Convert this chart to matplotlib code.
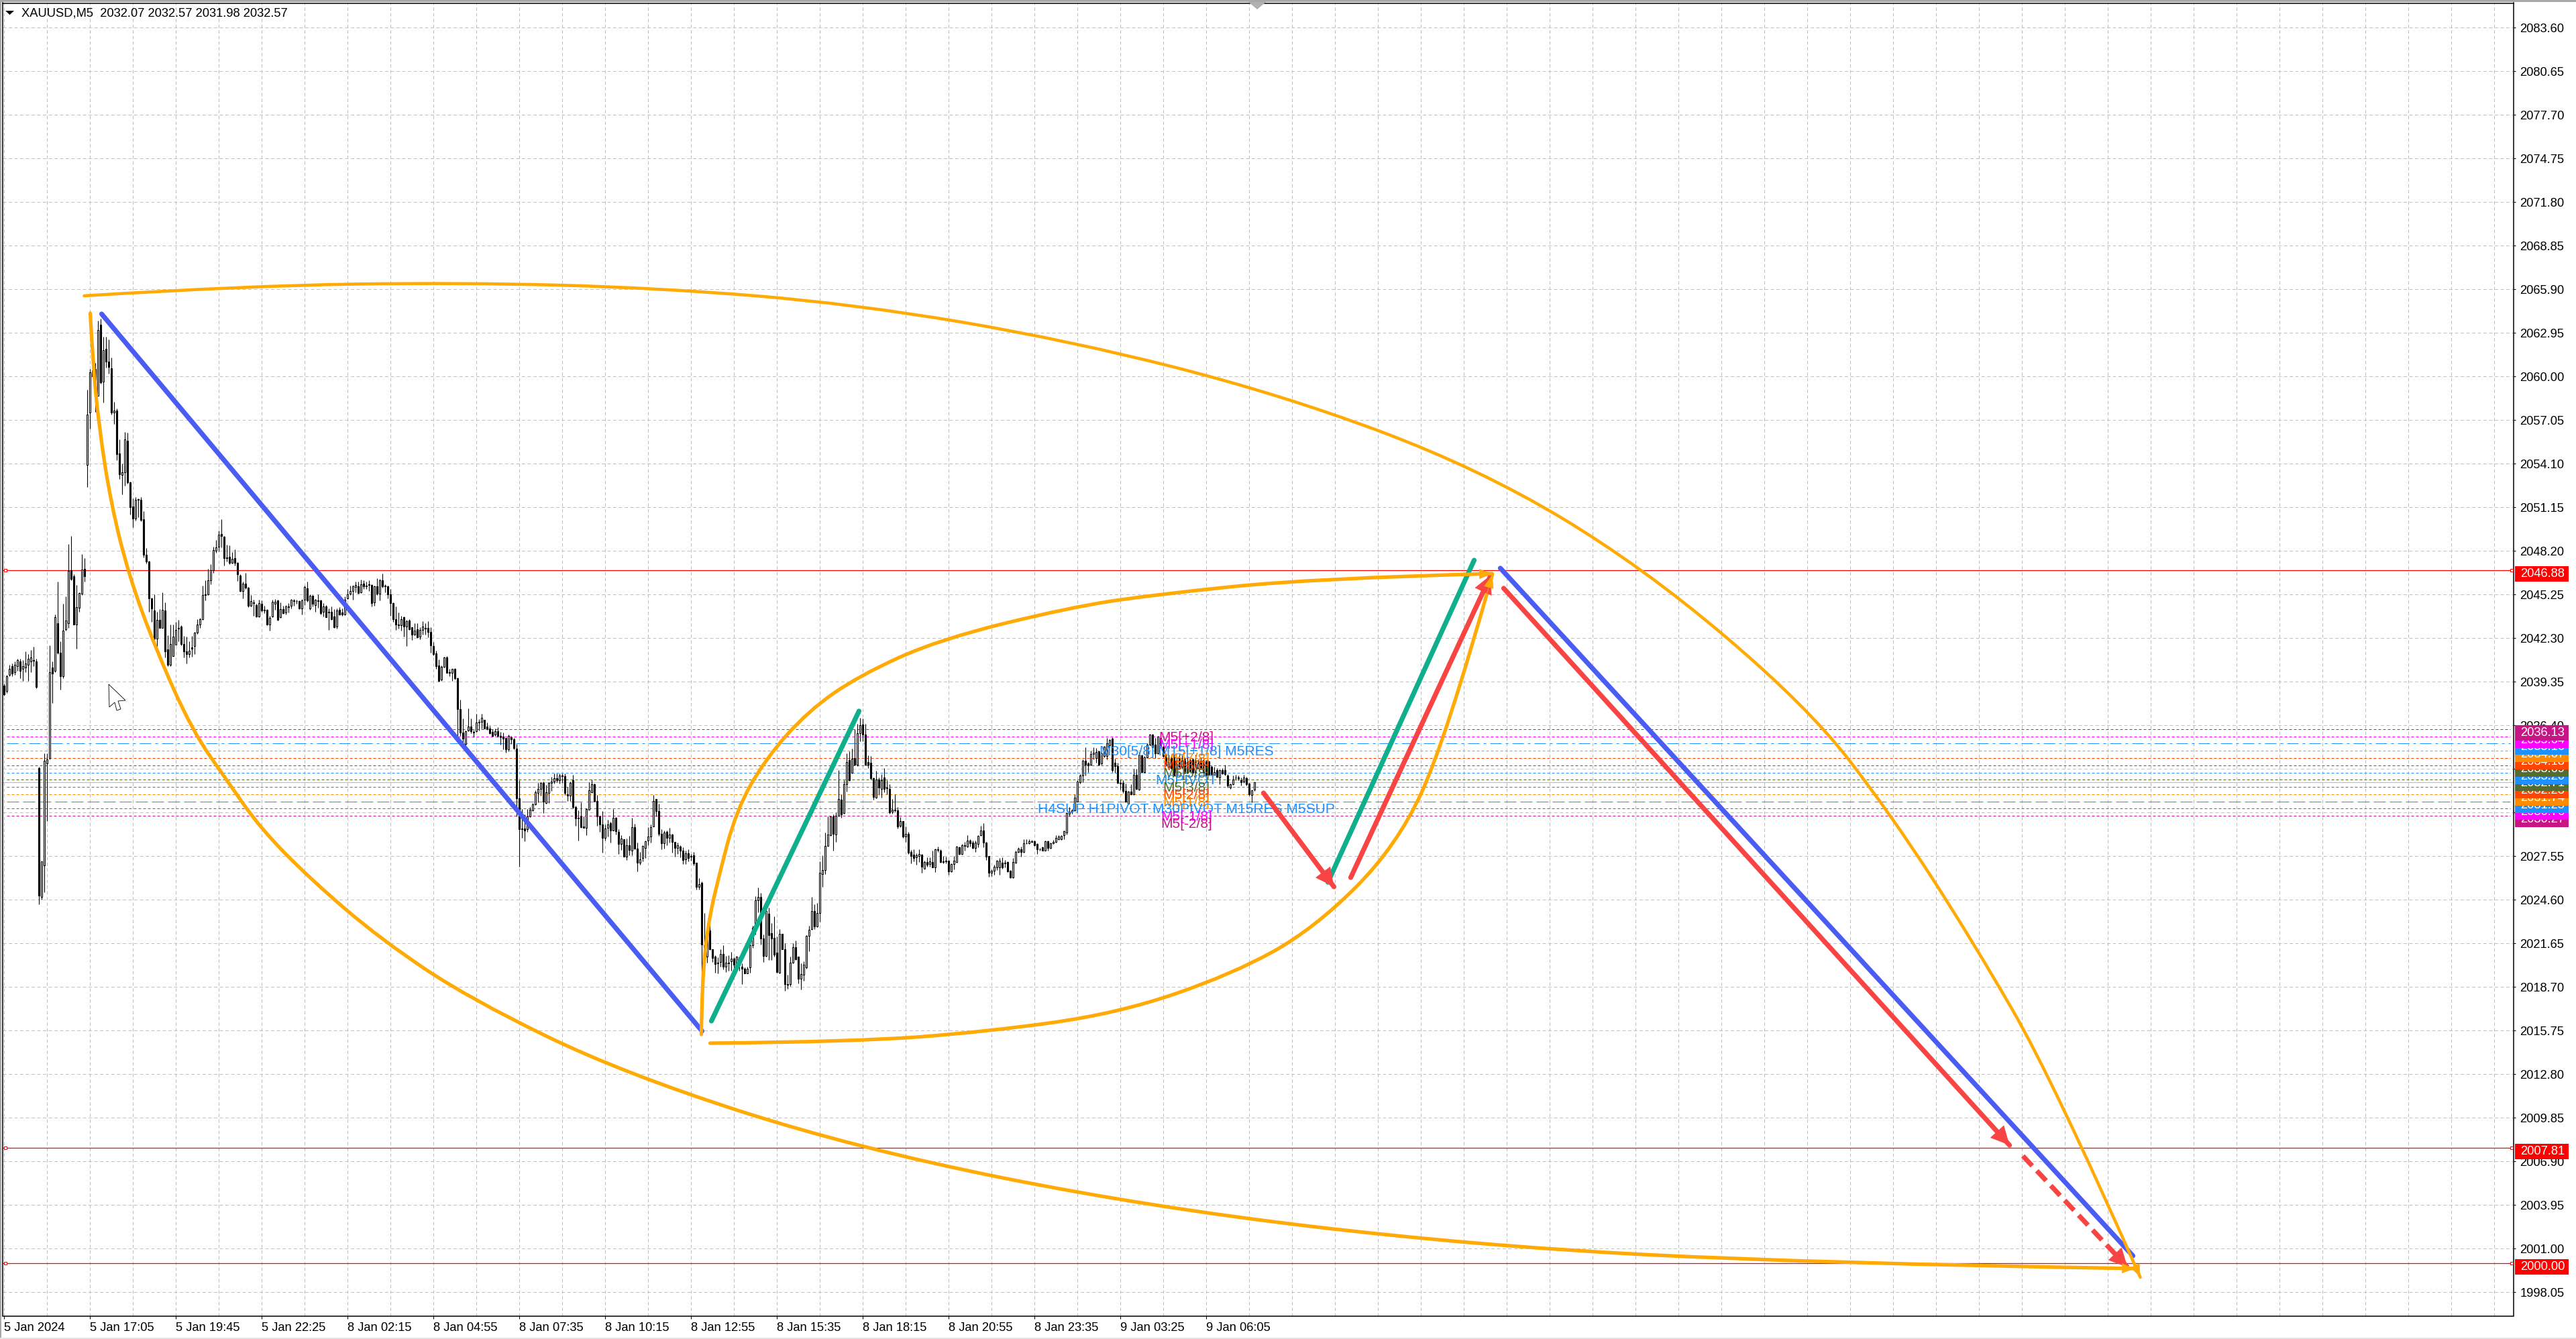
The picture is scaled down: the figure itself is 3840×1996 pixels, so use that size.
import numpy as np
import matplotlib
matplotlib.use('Agg')
import matplotlib.pyplot as plt
from matplotlib.path import Path
from matplotlib.patches import PathPatch, Polygon, Rectangle
from matplotlib.transforms import Affine2D

plt.rcParams['font.family'] = ['Liberation Sans', 'DejaVu Sans']

W, H = 3840, 1996

# Candles: one value per M5 bar
bar_open = [
    2039.1,2038.7,2039.8,2040.4,2040.0,2040.4,2040.7,2040.2,2040.3,2040.5,
    2040.7,2040.8,2040.7,2033.5,2024.8,2026.9,2033.8,2034.2,2040.3,2040.1,
    2043.3,2041.3,2039.7,2042.9,2043.3,2046.9,2046.5,2043.2,2044.35,2045.3,
    2047,2054,2057.55,2060.4,2060.5,2058.7,2063.5,2059.65,2061.85,2061,
    2060.55,2057.55,2057.7,2054.8,2053.35,2053.5,2055.65,2052.85,2051.2,2050.4,
    2051.65,2051.65,2050.35,2047.95,2047.5,2045,2044.15,2042.25,2043.55,2043,
    2044.15,2041.55,2040.5,2041.1,2041.85,2042.95,2043.1,2041.9,2041.4,2041.2,
    2041.65,2041.75,2042.65,2043.2,2043.6,2045.2,2045.25,2046.2,2046.9,2048.2,
    2048.5,2049.35,2049.15,2047.75,2047.8,2047.4,2047.7,2047.4,2046.55,2045.5,
    2046,2045.7,2044.5,2044.7,2044.55,2043.75,2044.6,2044.2,2044.2,2043.2,
    2043.75,2044.6,2044.85,2043.7,2044.25,2044.05,2044.45,2044.5,2044.85,2044.8,
    2044.8,2044.3,2044.9,2045.65,2044.3,2045.15,2044.55,2044.85,2044.85,2044.1,
    2044.45,2044.1,2044.1,2043.75,2043.1,2044.2,2044.05,2043.9,2045,2045.3,
    2045.5,2045.75,2045.8,2045.4,2046,2045.8,2045.95,2045.9,2044.7,2045.8,
    2045.3,2046.2,2045.85,2045.8,2045.25,2044.65,2043.6,2043.2,2043.15,2043.7,
    2043.1,2043.5,2043.05,2042.55,2042.9,2042.4,2042.85,2043,2043,2042.7,
    2041.75,2041.25,2040.45,2039.5,2040.35,2041,2040,2039.95,2040.2,2039.6,
    2037.5,2035.9,2035.15,2036.05,2036.3,2035.95,2036,2036.65,2036.65,2036.75,
    2036.3,2036.2,2035.95,2035.75,2036,2035.7,2035.65,2035.55,2034.75,2035.6,
    2035.45,2034.8,2031.45,2029.4,2029.4,2029.35,2030.25,2030.65,2031.05,2031.8,
    2032.1,2032.5,2031.15,2031.8,2032.5,2032.6,2032.8,2032.7,2033,2032.95,
    2031.75,2031.65,2032.7,2030.85,2030.15,2030.25,2029.55,2029.45,2030.7,2031.85,
    2032.4,2031.3,2030.25,2029.7,2028.8,2029.45,2029.8,2029.3,2030.15,2029.2,
    2028.35,2028.7,2027.5,2028.3,2027.9,2029.5,2028.05,2027.1,2027.4,2028.1,
    2028.6,2028.85,2029.55,2031.4,2030.6,2029.05,2028.4,2029.2,2028.8,2029,
    2028.5,2028.1,2028.2,2027.9,2027.35,2027.75,2027.55,2027.6,2027.1,2025.45,
    2025.75,2020.75,2020.75,2022.5,2021.25,2020.75,2020.35,2020.4,2020.95,2020.05,
    2020.35,2020.45,2020.6,2020.2,2020.7,2020.05,2019.95,2019.6,2020,2021.5,
    2022.7,2024.55,2024.8,2021.95,2020.8,2023.65,2022.35,2022,2021,2019.65,
    2022.3,2021.25,2018.9,2018.9,2020.35,2021.4,2020.75,2019.25,2019.5,2020,
    2022.15,2022.6,2023.85,2022.8,2023.7,2026.35,2026.6,2028.25,2028.95,2030.25,
    2029,2030.3,2031.35,2030.45,2032.4,2034.05,2033.2,2034.2,2033.75,2035.85,
    2036.45,2035.75,2033.9,2033.85,2032.8,2031.5,2032.75,2032.1,2032.85,2032.2,
    2032.1,2030.55,2030.7,2030.65,2029.6,2029.9,2028.85,2029.05,2027.85,2027.65,
    2027.45,2027.55,2027.65,2026.7,2027.15,2027,2027.15,2026.8,2028,2027.9,
    2027.2,2027.25,2027.25,2026.5,2027,2027.15,2028.15,2027.7,2028.3,2028.2,
    2028.6,2028.45,2028.1,2028.35,2028.95,2029.3,2028.45,2027.55,2026.4,2026.55,
    2026.8,2026.8,2027.1,2027.1,2027.15,2026.55,2026.1,2027.1,2027.85,2028,
    2027.85,2028.4,2028.4,2028.55,2028.55,2028.35,2028,2028.15,2027.9,2028.55,
    2028.1,2028.4,2028.5,2028.7,2028.7,2028.95,2029.15,2030.4,2030.55,2030.65,
    2031.25,2032.55,2033,2034,2033.8,2033.75,2034.45,2034.2,2034.65,2033.8,
    2034.3,2034.3,2035.05,2035.5,2033.85,2033.65,2032.5,2032.5,2031.95,2031.1,
    2031.9,2031.75,2033.05,2032.05,2034.35,2033.25,2034.25,2035.1,2035.75,2035.1,
    2034.5,2035.55,2034.95,2034.4,2033.6,2034.2,2034.25,2033,2034.2,2033.6,
    2034.1,2033.2,2034.05,2034.1,2033.2,2033.5,2034,2034.05,2033.95,2033.95,
    2033.6,2033.05,2033.35,2032.85,2033.35,2033.35,2033,2032.2,2032.4,2032.85,
    2032.85,2032.7,2032.6,2032.8,2032.45,2031.7,2032.07,
]
bar_close = [
    2038.5,2039.7,2040.2,2039.9,2040.5,2040.8,2040.1,2040.4,2040.6,2040.9,
    2041.0,2040.75,2039.0,2024.9,2027.2,2034.0,2034.1,2040.0,2039.9,2043.7,
    2041.3,2039.7,2042.8,2043.5,2046.85,2046.3,2043.2,2044.4,2045.35,2046.95,
    2046.5,2057.4,2060.3,2060,2058.8,2063.15,2059.6,2061.8,2061,2060.65,
    2057.55,2057.7,2054.75,2053.4,2053.5,2055.75,2052.85,2051.15,2050.4,2051.65,
    2051.7,2050.3,2047.95,2047.5,2045,2044.3,2042.25,2043.55,2043,2044.2,
    2041.4,2040.5,2041.9,2042.4,2042.85,2043,2041.9,2041.4,2041.2,2041.45,
    2041.6,2042.65,2043.2,2043.6,2045.2,2045.25,2046.2,2046.9,2048.25,2048.45,
    2049.3,2049.2,2047.7,2047.7,2047.4,2047.65,2047.4,2046.6,2045.5,2046,
    2045.7,2044.5,2044.8,2044.65,2043.75,2044.65,2044.15,2044.15,2043.2,2043.65,
    2044.75,2044.75,2043.55,2044.25,2044,2044.45,2044.4,2044.9,2044.8,2044.8,
    2044.3,2044.85,2045.75,2044.85,2045.15,2044.6,2044.9,2044.8,2044,2044.45,
    2043.7,2044.05,2043.6,2043.05,2044.15,2043.9,2043.9,2044.9,2045.25,2045.5,
    2045.8,2045.9,2045.35,2045.95,2045.8,2045.85,2045.9,2044.65,2045.8,2045.3,
    2046.2,2045.8,2045.8,2045.25,2044.65,2043.6,2043.2,2043.15,2043.6,2043.1,
    2043.45,2042.9,2042.55,2042.8,2042.35,2042.85,2043.1,2042.95,2042.7,2041.8,
    2041.2,2040.4,2039.4,2040.35,2041,2039.95,2039.95,2040.2,2039.6,2037.5,
    2035.9,2035.5,2036,2036.3,2036,2035.9,2036.6,2036.6,2036.9,2036.2,
    2036.2,2035.85,2035.7,2036,2035.7,2035.6,2035.5,2034.75,2035.7,2035.45,
    2034.85,2031.45,2029.35,2029.35,2029.3,2030.25,2030.7,2031.05,2031.85,2032.1,
    2032.5,2031.25,2031.85,2032.5,2032.6,2032.8,2032.7,2033,2032.95,2031.8,
    2031.65,2032.5,2030.85,2030.1,2030.1,2029.5,2029.45,2030.75,2032,2032.4,
    2031.3,2030.25,2029.7,2028.8,2029.4,2029.7,2029.3,2030.15,2029.25,2028.35,
    2028.75,2027.5,2028.3,2027.95,2029.5,2028.05,2027.1,2027.35,2028.25,2028.55,
    2028.85,2029.5,2031.3,2030.6,2029.05,2028.4,2029.15,2028.8,2029,2028.5,
    2028.1,2028.3,2027.9,2027.3,2027.75,2027.4,2027.5,2027.05,2025.45,2025.65,
    2021.55,2021.5,2022.5,2021.25,2020.65,2020.25,2020.3,2020.95,2020.05,2020.35,
    2020.3,2020.6,2020.2,2020.75,2020.15,2019.95,2019.6,2019.95,2021.5,2022.7,
    2024.55,2024.8,2021.95,2020.8,2023.85,2022.2,2021.95,2020.9,2019.7,2022.3,
    2021.25,2018.9,2018.85,2020.35,2021.4,2020.55,2019.25,2019.55,2020.2,2022.15,
    2022.55,2023.85,2022.8,2023.7,2026.4,2026.6,2028.25,2029,2030.25,2029.05,
    2030.3,2031.4,2030.35,2032.4,2033.9,2032.7,2034.15,2033.75,2035.85,2036.4,
    2035.75,2033.75,2033.75,2032.8,2031.55,2032.75,2032.2,2032.7,2032.1,2032.15,
    2030.5,2030.7,2030.65,2029.55,2029.9,2028.85,2029.05,2027.8,2027.55,2027.4,
    2027.6,2027.7,2026.85,2027.15,2026.95,2027.2,2026.8,2028,2027.95,2027.15,
    2027.15,2027.2,2026.5,2027,2027.25,2028.2,2027.7,2028.3,2028.25,2028.6,
    2028.4,2028.1,2028.45,2028.9,2029.3,2028.45,2027.5,2026.4,2026.55,2026.85,
    2027.25,2027.25,2026.8,2027.05,2026.5,2026.1,2027.15,2027.85,2028.05,2027.85,
    2028.4,2028.4,2028.55,2028.5,2028.3,2028,2028,2027.9,2028.55,2028.1,
    2028.4,2028.5,2028.8,2028.85,2028.9,2029.25,2030.45,2030.55,2030.65,2031.5,
    2032.6,2033,2034,2033.75,2033.7,2034.45,2034.55,2034.6,2033.75,2034.5,
    2034.95,2035.2,2035.4,2033.35,2033.65,2032.5,2032.45,2031.95,2031.25,2031.9,
    2031.75,2033.05,2032.1,2034.4,2033.25,2034.25,2035.1,2035.75,2034.9,2034.5,
    2035.65,2034.9,2034.3,2033.8,2034,2033.5,2033,2033.75,2033.6,2034,
    2033.2,2033.9,2033.3,2033.2,2033.9,2033.8,2033.55,2033.2,2033.05,2033.05,
    2033.05,2033.25,2032.9,2033.35,2033.15,2033.1,2032.3,2032.4,2032.75,2032.85,
    2032.8,2032.55,2032.85,2032.4,2031.75,2032,2032.57,
]
bar_high = [
    2039.2,2039.8,2040.5,2040.6,2040.7,2040.9,2040.9,2040.8,2041.4,2041.2,
    2041.5,2041.7,2040.9,2033.6,2027.2,2034.5,2034.5,2041.8,2040.7,2043.9,
    2046.1,2042.1,2044.6,2045.1,2048.65,2049.2,2046.6,2045.9,2045.4,2048.0,
    2047.7,2059.1,2060.5,2060.9,2060.9,2063.8,2063.9,2062.7,2062.7,2062.5,
    2061.3,2058.3,2057.85,2055.75,2054.1,2056.25,2056.2,2052.9,2051.75,2051.85,
    2051.75,2051.85,2050.9,2048.4,2047.55,2045.05,2045.25,2044.1,2044.25,2045.4,
    2044.7,2042.5,2043.2,2043.2,2043.4,2043.55,2043.15,2042.45,2042.4,2042.1,
    2042.45,2042.7,2043.6,2043.65,2045.85,2046.2,2047,2047.3,2048.5,2048.95,
    2049.55,2050.35,2049.2,2048.6,2048.55,2048.1,2048.3,2047.45,2046.6,2046.1,
    2046.7,2045.75,2045.2,2044.9,2044.6,2044.9,2044.85,2044.5,2044.25,2043.8,
    2044.9,2044.95,2044.9,2044.7,2044.5,2044.55,2044.65,2044.95,2044.95,2044.9,
    2044.85,2044.95,2045.85,2046.1,2045.25,2045.2,2044.95,2045.25,2044.9,2044.65,
    2044.55,2044.3,2044.45,2044.25,2044.3,2044.4,2044.3,2045.1,2045.6,2045.85,
    2045.9,2046.1,2046.1,2046.25,2046.2,2046.1,2046.2,2045.95,2045.85,2046.35,
    2046.3,2046.65,2045.95,2045.85,2045.6,2044.7,2044.45,2044.05,2043.8,2043.75,
    2043.55,2043.6,2043.05,2043.3,2043.3,2043.05,2043.45,2043.3,2043.45,2043.05,
    2042.05,2041.45,2040.85,2040.45,2041.05,2041.1,2040.2,2040.2,2040.25,2039.65,
    2038.15,2036.85,2036.05,2037.55,2036.85,2036.1,2037.2,2036.8,2037.2,2036.75,
    2036.6,2036.35,2036.15,2036.2,2036.25,2035.95,2035.9,2035.55,2035.75,2035.7,
    2035.55,2035.15,2032.7,2030.75,2030.35,2030.75,2030.85,2031.15,2032,2032.5,
    2032.55,2032.6,2032.35,2032.55,2032.9,2033.15,2033.15,2033.15,2033.15,2033.15,
    2032.25,2032.6,2033.05,2030.95,2030.65,2031.2,2030.25,2030.8,2032.55,2032.75,
    2032.45,2031.7,2030.3,2030.6,2029.7,2030,2029.85,2030.75,2030.2,2029.35,
    2028.95,2028.7,2028.75,2028.9,2030.15,2029.75,2028.45,2027.85,2028.3,2028.6,
    2029.5,2029.7,2031.7,2031.4,2031.1,2029.35,2029.3,2029.3,2029.45,2029.05,
    2028.5,2028.45,2028.3,2028.15,2027.9,2028,2027.7,2027.85,2027.1,2026.05,
    2025.85,2023.7,2023,2023,2021.25,2020.85,2020.7,2021.25,2021.5,2020.8,
    2020.85,2021.05,2020.7,2020.8,2020.75,2020.3,2020,2020.05,2021.65,2022.85,
    2024.85,2025.4,2025.05,2022.25,2024.05,2024.05,2023,2023.45,2022.1,2022.6,
    2022.3,2021.65,2019.5,2020.75,2021.65,2021.85,2020.75,2020.3,2020.45,2022.2,
    2022.85,2024.8,2024.3,2024.4,2027.2,2027.6,2029.15,2030.25,2030.25,2030.35,
    2030.5,2033.35,2031.75,2032.7,2034.5,2034.65,2034.8,2036.15,2036.5,2036.9,
    2036.85,2036.5,2034.35,2034.3,2032.85,2033.3,2032.85,2033.1,2033.5,2032.7,
    2032.4,2031.4,2031.75,2030.85,2030.2,2029.9,2029.55,2029.2,2027.95,2028,
    2027.75,2028,2027.7,2027.25,2027.45,2027.45,2027.9,2028.05,2028.2,2028,
    2027.55,2027.5,2027.3,2027.05,2027.55,2028.25,2028.2,2028.35,2028.5,2028.95,
    2028.7,2028.6,2028.6,2028.95,2029.6,2029.8,2028.5,2027.55,2026.65,2026.95,
    2027.3,2027.4,2027.45,2027.3,2027.2,2026.6,2027.4,2027.9,2028.15,2028.2,
    2028.7,2028.7,2028.7,2028.65,2028.6,2028.4,2028.1,2028.2,2028.6,2028.6,
    2028.45,2028.65,2028.95,2028.95,2028.95,2029.3,2030.5,2030.85,2030.75,2031.75,
    2032.7,2033.1,2034.1,2034.9,2033.9,2034.7,2034.9,2034.85,2034.7,2034.6,
    2035,2035.55,2035.45,2035.6,2034.15,2033.85,2032.75,2032.7,2032.45,2031.95,
    2032.4,2033.45,2033.45,2034.6,2034.4,2034.3,2035.2,2035.8,2035.8,2035.55,
    2035.7,2035.65,2035,2034.5,2034.4,2034.35,2034.4,2034.2,2034.4,2034.35,
    2034.25,2034.2,2034.25,2034.2,2034.4,2034.1,2034.2,2034.25,2034.05,2034,
    2033.7,2033.6,2033.5,2033.4,2033.5,2033.75,2033.1,2032.45,2033,2033.05,
    2033,2032.85,2033.05,2032.9,2032.5,2032,2032.57,
]
bar_low = [
    2038.4,2038.6,2039.7,2039.7,2039.8,2040.1,2039.6,2039.4,2040.0,2039.4,
    2040.0,2040.4,2038.9,2024.3,2024.6,2025.1,2029.9,2034.1,2037.9,2040.0,
    2041.2,2038.8,2039.6,2042.8,2043.0,2046.2,2043.2,2041.6,2044.1,2045.2,
    2046.1,2052.5,2056.45,2060,2057.6,2058.7,2059.5,2058.25,2060.6,2060.2,
    2057.4,2056.8,2054.35,2053.05,2052,2052.6,2052.75,2050.65,2049.8,2050.25,
    2050.5,2050.2,2047.75,2047.35,2044.1,2043.4,2041.9,2041.5,2043,2043,
    2041,2040.4,2040.4,2041.1,2041.85,2042.1,2041.8,2041,2040.6,2041,
    2041.05,2041.2,2042.6,2043,2043.55,2044.85,2045.2,2045.95,2046.7,2048.05,
    2048.15,2048.45,2047.2,2047.5,2047.3,2047.35,2047.2,2046.15,2045.45,2045,
    2045.6,2044.4,2044.45,2043.8,2043.7,2043.7,2044.1,2044,2043.15,2042.8,
    2043.7,2044.2,2043.5,2043.65,2043.95,2043.9,2044.05,2044.3,2044.5,2044.6,
    2044.25,2043.9,2044.55,2044.75,2044.2,2044.45,2044.1,2044.35,2043.9,2043.75,
    2043.7,2042.85,2043.55,2043,2042.95,2043.85,2043.8,2043.85,2044.95,2045.2,
    2044.9,2045.4,2045.3,2045.35,2045.6,2045.6,2045.5,2044.45,2044.5,2045.2,
    2044.85,2045.7,2045.4,2045,2043.8,2043.4,2042.85,2042.95,2042.8,2042.4,
    2041.75,2042.85,2042.15,2042.5,2042.3,2042.2,2042.55,2042.55,2042.35,2041.3,
    2041.15,2040.2,2039.35,2039.4,2040.3,2039.95,2039.7,2039.4,2039.5,2035.7,
    2035.7,2035.1,2035.05,2036,2035.85,2035.6,2035.95,2036.05,2036.2,2036.2,
    2036.1,2035.8,2035.65,2035.7,2035.6,2035.1,2034.75,2034.55,2034.65,2035.15,
    2034.75,2030.25,2026.85,2028.8,2028.55,2029.2,2030.2,2030.6,2031,2031.2,
    2031.65,2030.45,2031.1,2031.15,2031.95,2032.45,2032.55,2032.45,2032.5,2031.7,
    2031.3,2031.3,2030.8,2029.6,2028.6,2029.45,2029.45,2028.95,2030.7,2031.8,
    2031.25,2029.6,2029.2,2027.8,2028.6,2028.85,2028.45,2029.3,2029,2027.7,
    2027.95,2027.5,2027.3,2027.6,2027.6,2028,2026.5,2026.95,2027.2,2027.4,
    2028.3,2028.45,2029.55,2030.25,2028.9,2028,2028.05,2028.3,2028.45,2027.8,
    2027.5,2027.7,2027.45,2027,2027,2027.2,2027.25,2026.9,2025.3,2025.3,
    2018.3,2020.7,2020.35,2021.2,2020.4,2019.65,2019.6,2020.05,2019.9,2019.7,
    2019.8,2019.8,2019.8,2020,2019.8,2018.9,2019.6,2019.6,2019.65,2021.35,
    2022.25,2023.75,2021.55,2020.4,2020.75,2020.5,2020.5,2020.75,2019.65,2019.6,
    2021.25,2018.45,2018.55,2018.75,2020.3,2020.5,2018.95,2018.5,2019.1,2019.95,
    2021.1,2022.55,2022.6,2022.75,2023.1,2025.45,2026.35,2028.25,2028.9,2027.9,
    2028.5,2030.25,2030.15,2030.4,2031.9,2032.65,2033.15,2033.7,2033.65,2035.3,
    2035.3,2033.7,2033.5,2032.75,2031.35,2031.45,2031.7,2031.5,2031.85,2031.75,
    2030.4,2030.4,2030.55,2029.4,2029.5,2028.8,2028.5,2027.7,2027.05,2027.2,
    2026.95,2027.15,2026.4,2026.7,2026.85,2026.85,2026.8,2026.45,2027.85,2027.1,
    2027.05,2027.05,2026.3,2026.45,2026.65,2027.1,2027.65,2027.65,2027.9,2028.15,
    2028.2,2028.05,2027.85,2028.15,2028.9,2028.15,2027.3,2026.15,2026.2,2026.3,
    2026.6,2026.3,2026.7,2026.8,2026.45,2026.05,2026.05,2027.05,2027.8,2027.5,
    2027.8,2028.35,2028.35,2028.45,2028.25,2027.7,2027.9,2027.9,2027.9,2027.9,
    2028.05,2028.35,2028.45,2028.65,2028.65,2028.7,2029,2030.25,2030.4,2030.6,
    2031.25,2032.45,2032.55,2033,2033.25,2033.7,2034.1,2033.85,2033.7,2033.75,
    2034.25,2034.1,2034.9,2033.25,2033.2,2032.45,2032.05,2031.8,2031.2,2031.05,
    2031.7,2031.7,2032.05,2032,2033.2,2033.2,2034.2,2035.05,2034.85,2034.2,
    2034.45,2034.85,2034.25,2033.65,2033.55,2033.4,2032.95,2032.95,2033.55,2033.45,
    2033.15,2033.15,2033.25,2033.15,2033.15,2033.45,2033.45,2033.15,2032.9,2033,
    2033,2033,2032.85,2032.4,2033.1,2033,2032.2,2032.1,2032.35,2032.7,
    2032.7,2032.3,2032.5,2032.3,2031.65,2031.2,2031.98,
]

# Axis values
price_ticks = [2083.60, 2080.65, 2077.70, 2074.75, 2071.80, 2068.85, 2065.90, 2062.95, 2060.00, 2057.05,
               2054.10, 2051.15, 2048.20, 2045.25, 2042.30, 2039.35, 2036.40, 2033.45, 2030.50, 2027.55,
               2024.60, 2021.65, 2018.70, 2015.75, 2012.80, 2009.85, 2006.90, 2003.95, 2001.00, 1998.05]
time_labels = ['5 Jan 2024', '5 Jan 17:05', '5 Jan 19:45', '5 Jan 22:25', '8 Jan 02:15',
               '8 Jan 04:55', '8 Jan 07:35', '8 Jan 10:15', '8 Jan 12:55', '8 Jan 15:35',
               '8 Jan 18:15', '8 Jan 20:55', '8 Jan 23:35', '9 Jan 03:25', '9 Jan 06:05']

# Murrey math levels with their labels, top to bottom
level_prices = [2036.13, 2035.64, 2035.16, 2034.67, 2034.18, 2033.69, 2033.20,
                2032.71, 2032.23, 2031.74, 2031.25, 2030.76, 2030.27]
level_colors = ['#C71585', '#FF00FF', '#1E90FF', '#FF8C00', '#FF4500', '#556B2F', '#1E90FF',
                '#556B2F', '#FF4500', '#FF8C00', '#1E90FF', '#FF00FF', '#C71585']
level_dashes = [(4, 3), (4, 3), (17, 6, 4, 6), (4, 3), (4, 3), (4, 3), (4, 3),
                (4, 3), (4, 3), (4, 3), (18, 6), (4, 3), (4, 3)]
level_names = ['M5[+2/8]', 'M5[+1/8]', 'M30[5/8] M15[+1/8] M5RES', 'M5[7/8]', 'M5[6/8]', 'M5[5/8]', 'M5PIVOT',
               'M5[3/8]', 'M5[2/8]', 'M5[1/8]', 'H4SUP H1PIVOT M30PIVOT M15RES M5SUP', 'M5[-1/8]', 'M5[-2/8]']
red_levels = [2046.88, 2007.81, 2000.00]
last_price = 2032.57

# Hand drawn objects as (bar, price)
blue_lines = [[(36.5, 2064.23), (260.25, 2015.71)], [(557.75, 2047.03), (793.5, 2000.5)]]
green_lines = [[(263.75, 2016.39), (318.75, 2037.36)], [(493.5, 2025.78), (548, 2047.57)]]
red_arrows = [[(469.5, 2031.82), (495.75, 2025.47)], [(502, 2026.1), (554.25, 2046.57)],
              [(559, 2045.67), (747.5, 2007.99)]]
red_dashed = [(752.5, 2007.26), (791.5, 1999.73)]
curve_top = [(30, 2065.46), (90.5, 2066.14), (170.25, 2066.36), (243.75, 2066), (317, 2064.91),
             (396.75, 2062.46), (476.25, 2058.78), (549.75, 2053.79), (611, 2047.12), (672.25, 2037.68),
             (703, 2030.46), (733.5, 2021.9), (764, 2012.3), (796.25, 1999.05)]
curve_low = [(32.25, 2064.28), (33.25, 2060.96), (35.5, 2056.6), (40, 2051.38), (46.75, 2046.48),
             (56.75, 2041.53), (70.25, 2036.04), (83.5, 2032.59), (95.75, 2029.41), (114.75, 2025.92),
             (140.5, 2021.92), (173.75, 2017.88), (230.75, 2012.85), (317.75, 2007.76), (427.5, 2003.77),
             (548.75, 2001.18), (673.75, 2000), (794.25, 1999.64)]
curve_cup = [(263.25, 2014.89), (317, 2014.98), (366, 2015.66), (415, 2016.89), (458, 2019.56),
             (488.5, 2022.65), (519.25, 2028.23), (537.5, 2035.45), (554.75, 2046.57)]
curve_dome = [(260, 2015.48), (260.25, 2019.07), (262.5, 2022.97), (266.25, 2026.01), (273, 2030.64),
              (283.75, 2034.09), (299.75, 2037.36), (318.75, 2039.76), (348.75, 2042.22), (396.75, 2044.35),
              (427.25, 2045.21), (488.5, 2046.35), (554.75, 2046.66)]

ORANGE = '#FFAA05'
BLUE = '#4A5CF2'
GREEN = '#0FAE8C'
RED = '#F94444'
GRID = '#C0C0C0'


def curve_path(points, color, width):
    # vloženi kontrolni vozli, konci na sredinah
    pts = np.array(points, dtype=float)
    verts = [pts[0]]
    codes = [Path.MOVETO]
    for k in range(1, len(pts) - 1):
        end = pts[k + 1] if k == len(pts) - 2 else (pts[k] + pts[k + 1]) / 2
        verts += [pts[k], end]
        codes += [Path.CURVE3, Path.CURVE3]
    ax.add_patch(PathPatch(Path(verts, codes), fc='none', ec=color, lw=width, zorder=7,
                           capstyle='round', joinstyle='round'))


def arrow_head(tip, tail, color, length, half):
    # samo konica puščice
    tip = np.array(tip, dtype=float)
    tail = np.array(tail, dtype=float)
    start = tip + 0.15 * (tail - tip)
    ax.annotate('', xy=tip, xytext=start, zorder=8,
                arrowprops=dict(arrowstyle='-|>,head_length=%g,head_width=%g' % (length, half),
                                mutation_scale=1, color=color, lw=0.5, shrinkA=0, shrinkB=0))


fig = plt.figure(figsize=(W / 100, H / 100), dpi=100, facecolor='white')
ax = fig.add_axes([3.5 / W, 1 - 1961.5 / H, (3746.5 - 3.5) / W, (1961.5 - 4.5) / H])
ax.set_xlim(-0.5, 935.25)
ax.set_ylim(1996.44, 2085.27)

for side in ax.spines.values():
    side.set_linewidth(1.1)
    side.set_color('black')

# Osi in mreža
ax.set_axisbelow(True)
ax.yaxis.tick_right()
ax.set_yticks(price_ticks)
ax.set_yticklabels(['%.2f' % v for v in price_ticks], fontsize=13.2)
ax.tick_params(axis='y', length=2.5, width=0.8, pad=4.5)
ax.set_xticks(np.arange(len(time_labels)) * 32)
ax.set_xticklabels(time_labels, fontsize=13.2, ha='left')
ax.set_xticks(np.arange(16, 930, 16), minor=True)
ax.tick_params(axis='x', which='major', length=3, width=0.8, pad=4)
ax.tick_params(axis='x', which='minor', length=0)
ax.grid(True, which='both', color=GRID, lw=0.72, linestyle=(0, (5, 3.5)))

# Vodoravni nivoji
for price, col, dash in zip(level_prices, level_colors, level_dashes):
    ax.plot([1, 934], [price, price], color=col, lw=0.72, linestyle=(0, dash), zorder=2)
ax.axhline(last_price, color=GRID, lw=0.9, zorder=2)
for price in red_levels:
    ax.axhline(price, color='#FF0000', lw=0.9, zorder=2.5)
    ax.plot([0.5, 934.6], [price, price], ls='none', marker='s', ms=3.2, mfc='white', mec='#FF0000',
            mew=0.7, zorder=2.6)

# Sveče
bars = np.arange(len(bar_open))
o = np.array(bar_open)
c = np.array(bar_close)
ax.vlines(bars, bar_low, bar_high, color='black', lw=0.8, zorder=3)
rising = c > o
ax.bar(bars, np.abs(c - o), bottom=np.minimum(o, c), width=0.5,
       color=np.where(rising, 'white', 'black').tolist(), edgecolor='black', linewidth=0.8, zorder=3.5)

# Napisi nivojev
for price, col, name in zip(level_prices, level_colors, level_names):
    ax.text(440.75, price - 0.56, name, color=col, fontsize=15.1, ha='center', va='center', zorder=4)

# Risbe
for seg in blue_lines:
    xs, ys = zip(*seg)
    ax.plot(xs, ys, color=BLUE, lw=5.2, solid_capstyle='round', zorder=5)
for seg in green_lines:
    xs, ys = zip(*seg)
    ax.plot(xs, ys, color=GREEN, lw=5.2, solid_capstyle='round', zorder=5)
for seg in red_arrows:
    xs, ys = zip(*seg)
    ax.plot(xs, ys, color=RED, lw=5.2, solid_capstyle='round', zorder=6)
    arrow_head(seg[1], seg[0], RED, 19, 9.5)
xs, ys = zip(*red_dashed)
ax.plot(xs, ys, color=RED, lw=5.2, linestyle=(0, (2.8, 1.4)), zorder=6)
arrow_head(red_dashed[1], red_dashed[0], RED, 19, 9.5)

curve_path(curve_top, ORANGE, 3.3)
curve_path(curve_low, ORANGE, 3.8)
curve_path(curve_cup, ORANGE, 3.8)
curve_path(curve_dome, ORANGE, 3.8)
arrow_head(curve_top[-1], curve_top[-2], ORANGE, 13, 5)
arrow_head(curve_low[-1], curve_low[-2], ORANGE, 13, 5)
arrow_head(curve_cup[-1], curve_cup[-2], ORANGE, 13, 5)
arrow_head(curve_dome[-1], curve_dome[-2], ORANGE, 13, 5)

# Cenovne oznake desno: nižje najprej, višja prekrije nižjo
tag_prices = red_levels + level_prices
tag_colors = ['#FF0000'] * 3 + level_colors
order = np.argsort(tag_prices)
for rank, k in enumerate(order):
    price = tag_prices[k]
    ax.add_patch(Rectangle((935.75, price - 0.77), 20, 1.04, fc=tag_colors[k], ec='none',
                           clip_on=False, zorder=10 + rank))
    ax.text(938, price - 0.25, '%.2f' % price, color='white', fontsize=13.2, ha='left', va='center',
            clip_on=False, zorder=10 + rank + 0.5)

# Glava okna
pixels = Affine2D().scale(1, -1).translate(0, H)
fig.text(32 / W, 1 - 20 / H, 'XAUUSD,M5  2032.07 2032.57 2031.98 2032.57', fontsize=13.2, va='center', ha='left')
fig.add_artist(Polygon([(8, 16), (21, 16), (14.5, 22)], closed=True, fc='black', ec='none', transform=pixels))
fig.add_artist(Rectangle((0, 0), W, 3, fc='#A8A8A8', ec='none', transform=pixels))
fig.add_artist(Rectangle((0, 0), 2, H, fc='#A8A8A8', ec='none', transform=pixels))
fig.add_artist(Rectangle((0, 1994), W, 2, fc='#E4E4E4', ec='none', transform=pixels))
fig.add_artist(Polygon([(1861, 3), (1887, 3), (1874, 14)], closed=True, fc='#B0B0B0', ec='none', transform=pixels))

# Kazalec miške
fig.add_artist(Polygon([(162, 1020), (187, 1044), (176, 1045), (180, 1057), (174, 1059), (171, 1047), (163, 1054)],
                       closed=True, fc='white', ec='black', lw=0.6, transform=pixels))

fig.savefig('out.png', dpi=100)
